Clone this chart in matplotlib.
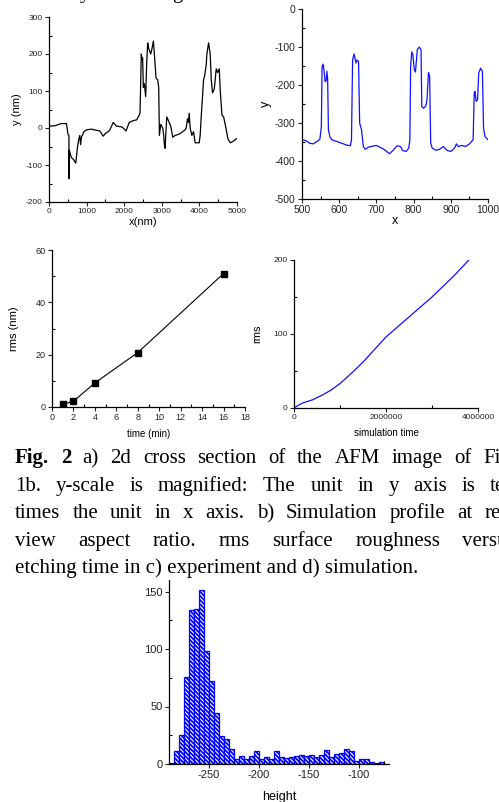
import matplotlib
matplotlib.use('Agg')
import matplotlib.pyplot as plt
from matplotlib.ticker import MultipleLocator

plt.rcParams['font.family'] = ['Liberation Sans', 'DejaVu Sans']
plt.rcParams['axes.unicode_minus'] = False
plt.rcParams['hatch.linewidth'] = 1.3

W, H = 499, 802

# a) AFM cross section
afm_x = [0, 151, 329, 463, 507, 530, 534, 540, 552, 596, 650, 712, 760, 792, 819, 840, 863,
         930, 996, 1130, 1250, 1352, 1441, 1500, 1575, 1619, 1708, 1797, 1931, 1975, 2046,
         2135, 2242, 2331, 2402, 2420, 2438, 2455, 2473, 2490, 2509, 2536, 2571, 2600, 2625,
         2650, 2687, 2705, 2740, 2776, 2802, 2847, 2891, 2918, 2936, 2972, 3025, 3050, 3069,
         3087, 3132, 3176, 3238, 3292, 3354, 3420, 3488, 3621, 3648, 3683, 3710, 3728, 3754,
         3799, 3843, 3888, 3995, 4021, 4048, 4080, 4110, 4137, 4181, 4199, 4244, 4288, 4315,
         4350, 4395, 4448, 4484, 4528, 4555, 4600, 4644, 4706, 4760, 4822, 4911, 5000]
afm_y = [5, 6, 12, 12, -18, -20, -137, -60, -65, -80, -85, -95, -50, -30, -20, -45, -25,
         -10, -5, -3, -6, -8, -22, -15, -10, -5, 15, 5, 3, 0, -8,
         15, 20, 22, 35, 40, 120, 200, 185, 190, 110, 120, 85, 180, 230,
         215, 205, 200, 215, 235, 200, 135, 130, 110, -20, 10, 0, -20, -45,
         -55, 30, 20, 5, -25, -20, -18, -15, -5, 0, 25, 15, 40, 0,
         -20, -10, -40, -40, -20, 30, 80, 130, 140, 170, 200, 230, 200, 130,
         95, 105, 160, 150, 160, 100, 35, 30, 0, -30, -40, -35, -28]

# b) simulation profile
sim_x = [500, 510, 520, 530, 540, 548, 552, 554, 557, 560, 562, 565, 567, 569, 571, 575, 580,
         600, 620, 630, 633, 636, 640, 645, 648, 652, 655, 660, 665, 670, 680, 700, 720, 735,
         745, 755, 765, 770, 780, 787, 790, 792, 795, 798, 802, 805, 810, 815, 820, 822, 827,
         833, 836, 840, 843, 846, 850, 860, 870, 880, 890, 900, 910, 915, 920, 930, 940, 950,
         960, 963, 965, 968, 972, 975, 980, 985, 988, 992, 1000]
sim_y = [-344, -346, -353, -355, -349, -343, -310, -151, -145, -169, -191, -189, -164, -186,
         -318, -336, -344, -351, -358, -360, -344, -134, -118, -142, -134, -138, -300, -318,
         -362, -369, -363, -359, -369, -381, -372, -360, -362, -372, -375, -366, -344, -151,
         -113, -120, -160, -166, -107, -100, -107, -257, -261, -255, -239, -167, -177, -353,
         -366, -372, -369, -362, -372, -375, -366, -355, -362, -359, -362, -355, -344, -221,
         -217, -243, -239, -169, -156, -164, -314, -336, -344]

# c) rms vs etching time (experiment)
exp_t = [1, 2, 4, 8, 16]
exp_rms = [1.0, 2.2, 9.2, 20.8, 51.0]

# d) rms vs simulation time
simt = [0, 1e5, 2e5, 4e5, 6e5, 8e5, 1e6, 1.25e6, 1.5e6, 2e6, 2.5e6, 3e6, 3.5e6, 3.8e6]
simt_rms = [0, 4, 7, 11, 17, 24, 33, 47, 62, 96, 123, 150, 180, 200]

# height histogram
bin_start = -290
bin_width = 5
hist_counts = [1, 11, 25, 76, 134, 135, 151, 98, 72, 44, 24, 22, 13, 4, 7, 4, 7, 11, 4, 6,
               4, 11, 6, 5, 6, 7, 8, 7, 8, 6, 8, 12, 6, 9, 10, 13, 11, 3, 4, 4, 2, 1, 2]

# caption lines (justified, cut at the right edge of the scan)
cap1 = ['Fig.', '2', 'a)', '2d', 'cross', 'section', 'of', 'the', 'AFM', 'image', 'of', 'Fig.']
cap2 = ['1b.', 'y-scale', 'is', 'magnified:', 'The', 'unit', 'in', 'y', 'axis', 'is', 'ten']
cap3 = ['times', 'the', 'unit', 'in', 'x', 'axis.', 'b)', 'Simulation', 'profile', 'at', 'real']
cap4 = ['view', 'aspect', 'ratio.', 'rms', 'surface', 'roughness', 'versus']
cap5 = 'etching time in c) experiment and d) simulation.'

fig = plt.figure(figsize=(W / 100, H / 100), dpi=100)


def box(l, t, r, b):
    return fig.add_axes([l / W, 1 - b / H, (r - l) / W, (b - t) / H])


def style(ax, fs):
    for s in ['top', 'right']:
        ax.spines[s].set_visible(False)
    for s in ['left', 'bottom']:
        ax.spines[s].set_linewidth(0.9)
    ax.tick_params(which='major', direction='out', length=3, width=0.8,
                   labelsize=fs, pad=1.5, colors='#222222')
    ax.tick_params(which='minor', direction='in', length=2, width=0.8)


# a
ax = box(49, 17, 237, 202)
ax.plot(afm_x, afm_y, color='black', lw=0.9)
ax.set_xlim(0, 5000)
ax.set_ylim(-200, 300)
ax.xaxis.set_major_locator(MultipleLocator(1000))
ax.xaxis.set_minor_locator(MultipleLocator(500))
ax.yaxis.set_major_locator(MultipleLocator(100))
ax.yaxis.set_minor_locator(MultipleLocator(50))
style(ax, 6)
ax.set_xlabel('x(nm)', fontsize=8, labelpad=1)
ax.set_ylabel('y (nm)', fontsize=8, labelpad=3)

# b
ax = box(302, 9, 488, 199)
ax.plot(sim_x, sim_y, color='#1010ff', lw=0.9)
ax.set_xlim(500, 1000)
ax.set_ylim(-500, 0)
ax.xaxis.set_major_locator(MultipleLocator(100))
ax.xaxis.set_minor_locator(MultipleLocator(50))
ax.yaxis.set_major_locator(MultipleLocator(100))
ax.yaxis.set_minor_locator(MultipleLocator(50))
style(ax, 7.5)
ax.set_xlabel('x', fontsize=9, labelpad=0)
ax.set_ylabel('y', fontsize=9, labelpad=2)

# c
ax = box(52, 250, 245, 407)
ax.plot(exp_t, exp_rms, color='black', lw=0.8, marker='s', markersize=4)
ax.set_xlim(0, 18)
ax.set_ylim(0, 60)
ax.xaxis.set_major_locator(MultipleLocator(2))
ax.xaxis.set_minor_locator(MultipleLocator(1))
ax.yaxis.set_major_locator(MultipleLocator(20))
ax.yaxis.set_minor_locator(MultipleLocator(10))
style(ax, 6.5)
ax.set_xlabel('time (min)', fontsize=7, labelpad=5)
ax.set_ylabel('rms (nm)', fontsize=8, labelpad=12)

# d
ax = box(294, 260, 478, 408)
ax.plot(simt, simt_rms, color='#1010ff', lw=0.9)
ax.set_xlim(0, 4e6)
ax.set_ylim(0, 200)
ax.xaxis.set_major_locator(MultipleLocator(2e6))
ax.xaxis.set_minor_locator(MultipleLocator(1e6))
ax.yaxis.set_major_locator(MultipleLocator(100))
ax.yaxis.set_minor_locator(MultipleLocator(50))
ax.ticklabel_format(style='plain', useOffset=False)
style(ax, 6)
ax.set_xlabel('simulation time', fontsize=7, labelpad=5)
ax.set_ylabel('rms', fontsize=8, labelpad=8)

# histogram
ax = box(169, 580, 389, 764)
lefts = [bin_start + bin_width * i for i in range(len(hist_counts))]
ax.bar(lefts, hist_counts, width=bin_width, align='edge', facecolor='white',
       edgecolor='#0000ff', hatch='\\\\\\\\\\\\\\\\', linewidth=0.9)
ax.set_xlim(-290, -70)
ax.set_ylim(0, 160)
ax.xaxis.set_major_locator(MultipleLocator(50))
ax.xaxis.set_minor_locator(MultipleLocator(25))
ax.yaxis.set_major_locator(MultipleLocator(50))
ax.yaxis.set_minor_locator(MultipleLocator(25))
style(ax, 8)
ax.set_xlabel('height', fontsize=9, labelpad=8)

# caption text (scanned page)
serif = ['Liberation Serif', 'DejaVu Serif']
renderer = fig.canvas.get_renderer()


def word(x, y, s, bold=False):
    return fig.text(x / W, 1 - y / H, s, fontsize=15, family=serif, va='baseline',
                    ha='left', fontweight='bold' if bold else 'normal')


def justify(words, y, x0, x1, n_bold=0):
    texts = [word(0, y, s, bold=i < n_bold) for i, s in enumerate(words)]
    widths = [t.get_window_extent(renderer).width for t in texts]
    gap = (x1 - x0 - sum(widths)) / (len(words) - 1)
    x = x0
    for t, w in zip(texts, widths):
        t.set_x(x / W)
        x += w + gap


# descenders of the line above, cut by the scan
word(80, -2, 'y')
word(172, -2, 'g')

R = 516
justify(cap1, 463, 15, R, n_bold=2)
justify(cap2, 491, 15, R)
justify(cap3, 518, 15, R)
justify(cap4, 546, 15, R)
word(15, 573, cap5)

fig.savefig('out.png', dpi=100)
